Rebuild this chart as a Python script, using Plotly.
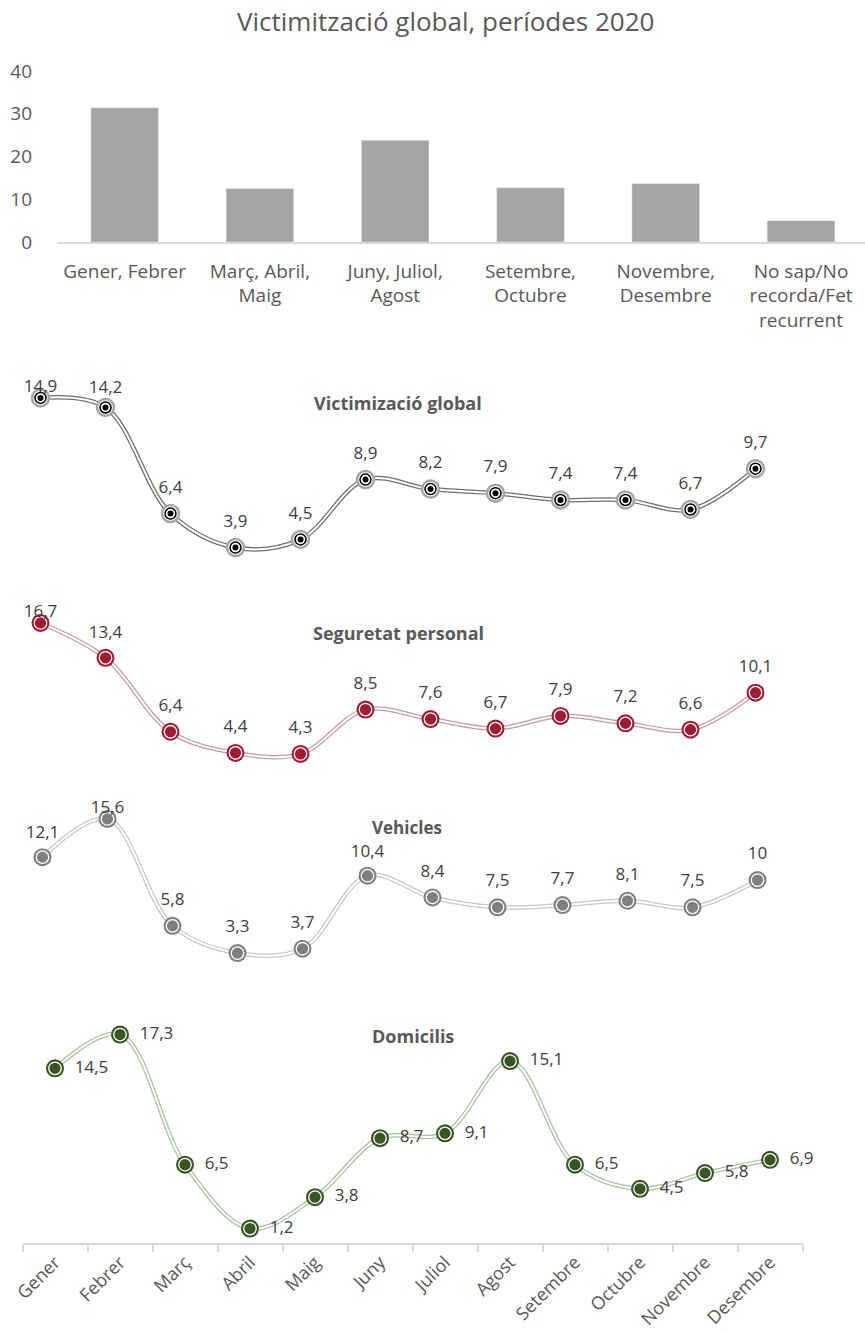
import plotly.graph_objects as go

# ---------------- data ----------------
periods = ["Gener, Febrer", "Març, Abril,<br>Maig", "Juny, Juliol,<br>Agost",
           "Setembre,<br>Octubre", "Novembre,<br>Desembre", "No sap/No<br>recorda/Fet<br>recurrent"]
period_values = [31.4, 12.5, 23.8, 12.7, 13.7, 5.0]

months = ["Gener", "Febrer", "Març", "Abril", "Maig", "Juny", "Juliol",
          "Agost", "Setembre", "Octubre", "Novembre", "Desembre"]
global_vals = [14.9, 14.2, 6.4, 3.9, 4.5, 8.9, 8.2, 7.9, 7.4, 7.4, 6.7, 9.7]
personal_vals = [16.7, 13.4, 6.4, 4.4, 4.3, 8.5, 7.6, 6.7, 7.9, 7.2, 6.6, 10.1]
vehicle_vals = [12.1, 15.6, 5.8, 3.3, 3.7, 10.4, 8.4, 7.5, 7.7, 8.1, 7.5, 10]
home_vals = [14.5, 17.3, 6.5, 1.2, 3.8, 8.7, 9.1, 15.1, 6.5, 4.5, 5.8, 6.9]

W, H = 865, 1333
FONT = "Open Sans, Lato, sans-serif"
GREY_TXT = "#595959"
LBL_TXT = "#404040"


def px_x(x):
    return x / W


def px_y(y):
    return 1 - y / H


def xd(l, r):
    return [max(0, px_x(l)), min(1, px_x(r))]


def yd(top, bottom):
    return [px_y(bottom), px_y(top)]


def fmt(v):
    return f"{v:g}".replace(".", ",")


fig = go.Figure()

# ---------------- bar chart ----------------
fig.add_trace(go.Bar(x=periods, y=period_values, marker_color="#A5A5A5",
                     xaxis="x", yaxis="y", hoverinfo="skip"))

LS = 17  # data label font size
panels = [
    dict(vals=global_vals, ax="2", line="#6F6F6F", ring="#A6A6A6", fill="#000000",
         style="global", pos="top center",
         offs=[1, 15, 25, 25, 25, 25, 25, 25, 25, 25, 25, 25]),
    dict(vals=personal_vals, ax="3", line="#C79AA2", ring="#9E1B32", fill="#9E1B32",
         style="ring", pos="top center",
         offs=[1, 23, 25, 25, 25, 25, 25, 25, 25, 25, 25, 25]),
    dict(vals=vehicle_vals, ax="4", line="#C8C8C8", ring="#7F7F7F", fill="#7F7F7F",
         style="ring", pos="top center",
         offs=[23, 1, 25, 25, 25, 21, 25, 25, 25, 25, 25, 25]),
    dict(vals=home_vals, ax="5", line="#A9C29F", ring="#375623", fill="#375623",
         style="ring", pos="middle right",
         offs=[30] * 12),
]

for p in panels:
    xa, ya = "x" + p["ax"], "y" + p["ax"]
    # double line: coloured outer + white core
    fig.add_trace(go.Scatter(x=months, y=p["vals"], mode="lines", xaxis=xa, yaxis=ya,
                             line=dict(color=p["line"], width=4.5, shape="spline", smoothing=1.0),
                             hoverinfo="skip", cliponaxis=False))
    fig.add_trace(go.Scatter(x=months, y=p["vals"], mode="lines", xaxis=xa, yaxis=ya,
                             line=dict(color="white", width=2, shape="spline", smoothing=1.0),
                             hoverinfo="skip", cliponaxis=False))
    if p["style"] == "global":
        layers = [
            dict(size=17, color="white", line=dict(color=p["ring"], width=2.5)),
            dict(size=11, color="white", line=dict(color="#000000", width=1.5)),
            dict(size=6, color="#000000", line=dict(width=0)),
        ]
    else:
        layers = [
            dict(size=18, color=p["ring"], line=dict(width=0)),
            dict(size=12.5, color=p["fill"], line=dict(color="white", width=1.3)),
        ]
    for m in layers:
        fig.add_trace(go.Scatter(x=months, y=p["vals"], mode="markers", xaxis=xa, yaxis=ya,
                                 marker=m, hoverinfo="skip", cliponaxis=False))
    # data labels
    fig.add_trace(go.Scatter(x=months, y=p["vals"], mode="markers+text", xaxis=xa, yaxis=ya,
                             text=[fmt(v) for v in p["vals"]], textposition=p["pos"],
                             textfont=dict(family=FONT, size=LS, color=LBL_TXT),
                             marker=dict(size=p["offs"], opacity=0),
                             hoverinfo="skip", cliponaxis=False))

hidden = dict(visible=False, fixedrange=True, automargin=False)

fig.update_layout(
    width=W, height=H, margin=dict(l=0, r=0, t=0, b=0, pad=0, autoexpand=False),
    paper_bgcolor="white", plot_bgcolor="white", showlegend=False,
    font=dict(family=FONT, color=GREY_TXT),
    bargap=0.5,
    xaxis=dict(domain=xd(57, 865), anchor="y", range=[-0.5, 5.473], showgrid=False,
               showline=True, linecolor="#D9D9D9", linewidth=1.5, ticks="",
               tickfont=dict(size=19, color=GREY_TXT), ticklabelstandoff=11,
               fixedrange=True, automargin=False),
    yaxis=dict(domain=yd(60, 242), anchor="x", range=[0, 42.6], showgrid=False,
               zeroline=False, showline=False, tickvals=[0, 10, 20, 30, 40],
               tickfont=dict(size=19, color=GREY_TXT), ticklabelstandoff=24,
               fixedrange=True, automargin=False),
    xaxis2=dict(domain=xd(8, 788), anchor="y2", range=[-0.5, 11.5], **hidden),
    yaxis2=dict(domain=yd(380, 570), anchor="x2", range=[2.25, 16.22], **hidden),
    xaxis3=dict(domain=xd(8, 788), anchor="y3", range=[-0.5, 11.5], **hidden),
    yaxis3=dict(domain=yd(605, 770), anchor="x3", range=[2.78, 18.40], **hidden),
    xaxis4=dict(domain=xd(10, 790), anchor="y4", range=[-0.5, 11.5], **hidden),
    yaxis4=dict(domain=yd(800, 970), anchor="x4", range=[1.75, 17.34], **hidden),
    xaxis5=dict(domain=xd(22.5, 802.5), anchor="y5", range=[-0.5, 11.5], showgrid=False,
                showline=True, linecolor="#D9D9D9", linewidth=1.5, ticks="outside",
                tickson="boundaries", ticklen=7, tickcolor="#D9D9D9", tickwidth=1.5,
                tickangle=-45, tickfont=dict(size=18, color=GREY_TXT),
                fixedrange=True, automargin=False),
    yaxis5=dict(domain=yd(1010, 1243), anchor="x5", range=[0, 19.34], **hidden),
)

annots = [
    ("Victimització global, períodes 2020", 445, 21, 26, False),
    ("Victimizació global", 398, 403, 18, True),
    ("Seguretat personal", 398, 633, 18, True),
    ("Vehicles", 407, 828, 17, True),
    ("Domicilis", 413, 1036, 18, True),
]
for txt, x, y, s, bold in annots:
    fig.add_annotation(text=f"<b>{txt}</b>" if bold else txt, xref="paper", yref="paper",
                       x=px_x(x), y=px_y(y), xanchor="center", yanchor="middle",
                       showarrow=False, font=dict(family=FONT, size=s, color=GREY_TXT))

# remove the browser's default body margin so the figure sits at the page origin
fig.write_html("out.html", config={"displayModeBar": False},
               post_script="document.body.style.margin='0';document.body.style.overflow='hidden';")
